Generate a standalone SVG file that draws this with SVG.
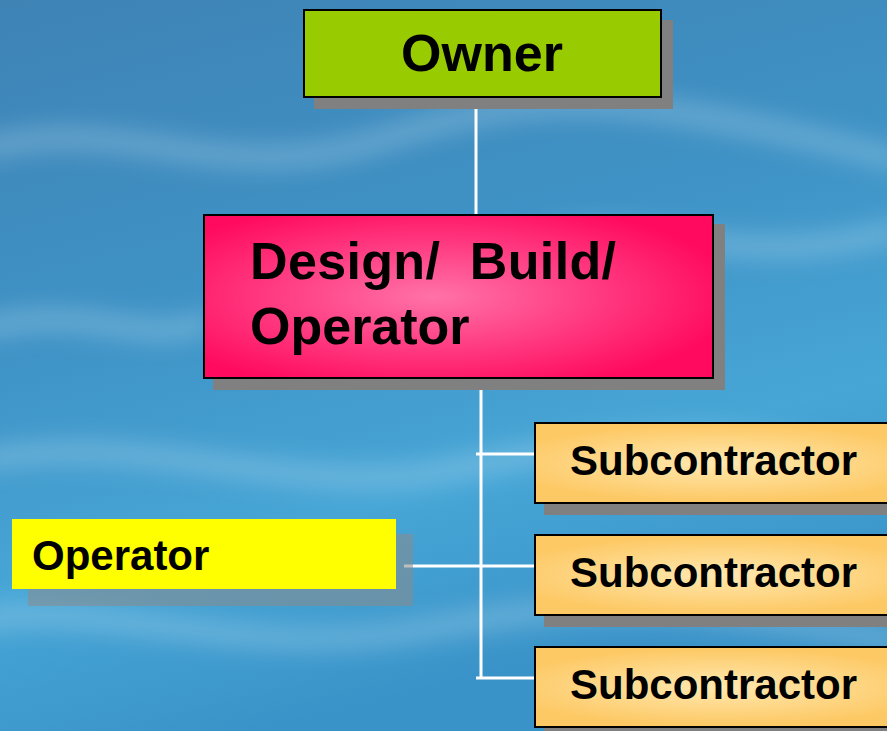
<svg xmlns="http://www.w3.org/2000/svg" width="887" height="731" viewBox="0 0 887 731">
<defs>
<linearGradient id="bg" x1="0" y1="0" x2="0.3" y2="1">
<stop offset="0" stop-color="#3f83b5"/>
<stop offset="0.45" stop-color="#3f93c6"/>
<stop offset="0.75" stop-color="#47a6d6"/>
<stop offset="1" stop-color="#3a93c8"/>
</linearGradient>
<radialGradient id="pink" cx="0.45" cy="0.5" r="0.6">
<stop offset="0" stop-color="#ff72a8"/>
<stop offset="1" stop-color="#ff0a5e"/>
</radialGradient>
<radialGradient id="sub" cx="0.5" cy="0.5" r="0.6" gradientTransform="translate(0,0.1) scale(1,0.8)">
<stop offset="0" stop-color="#ffe8b0"/>
<stop offset="1" stop-color="#fdc965"/>
</radialGradient>
<filter id="blur" x="-20%" y="-50%" width="140%" height="200%"><feGaussianBlur stdDeviation="12"/></filter>
<style>
.lbl{font-family:"Liberation Sans",Arial,sans-serif;font-weight:bold;fill:#000}
.sh{fill:#808080}
.bx{stroke:#000;stroke-width:2}
.sub{fill:url(#sub);stroke:#000;stroke-width:2}
.con{stroke:#fff;stroke-width:3;fill:none}
</style>
</defs>
<rect width="887" height="731" fill="url(#bg)"/>
<g filter="url(#blur)" fill="none" stroke="#cfe8f5" stroke-opacity="0.35" stroke-width="18">
<path d="M-20 150 C120 110 220 190 380 140 S620 90 900 160"/>
<path d="M-20 460 C150 430 300 500 450 470 S700 420 900 470"/>
<path d="M-20 620 C100 600 250 660 420 630 S650 600 900 640"/>
<path d="M520 250 C620 200 720 280 900 230"/>
<path d="M-20 330 C80 300 150 350 210 320"/>
</g>
<g id="connectors">
<line class="con" x1="476" y1="97" x2="476" y2="214"/>
<line class="con" x1="481" y1="378" x2="481" y2="679"/>
<line class="con" x1="476" y1="454" x2="534" y2="454"/>
<line class="con" x1="404" y1="566" x2="534" y2="566"/>
<line class="con" x1="476" y1="678" x2="534" y2="678"/>
</g>
<g id="owner">
<rect class="sh" x="314" y="20" width="359" height="89"/>
<rect class="bx" x="304" y="10" width="357" height="87" fill="#99cc00"/>
<text class="lbl" x="482" y="71" font-size="52" text-anchor="middle">Owner</text>
</g>
<g id="dbo">
<rect class="sh" x="213" y="224" width="512" height="166"/>
<rect class="bx" x="204" y="215" width="509" height="163" fill="url(#pink)"/>
<text class="lbl" x="250" y="279" font-size="52" textLength="366" xml:space="preserve">Design/  Build/</text>
<text class="lbl" x="250" y="344" font-size="52">Operator</text>
</g>
<g id="operator">
<rect x="28" y="534" width="385" height="72" fill="#8a8a8a" fill-opacity="0.55"/>
<rect x="12" y="519" width="384" height="70" fill="#ffff00"/>
<text class="lbl" x="32" y="570" font-size="42">Operator</text>
</g>
<g id="sub1">
<rect class="sh" x="544" y="433" width="360" height="82"/>
<rect class="sub" x="535" y="423" width="370" height="80"/>
<text class="lbl" x="570" y="475" font-size="42">Subcontractor</text>
</g>
<g id="sub2">
<rect class="sh" x="544" y="545" width="360" height="82"/>
<rect class="sub" x="535" y="535" width="370" height="80"/>
<text class="lbl" x="570" y="587" font-size="42">Subcontractor</text>
</g>
<g id="sub3">
<rect class="sh" x="544" y="657" width="360" height="82"/>
<rect class="sub" x="535" y="647" width="370" height="80"/>
<text class="lbl" x="570" y="699" font-size="42">Subcontractor</text>
</g>
</svg>
